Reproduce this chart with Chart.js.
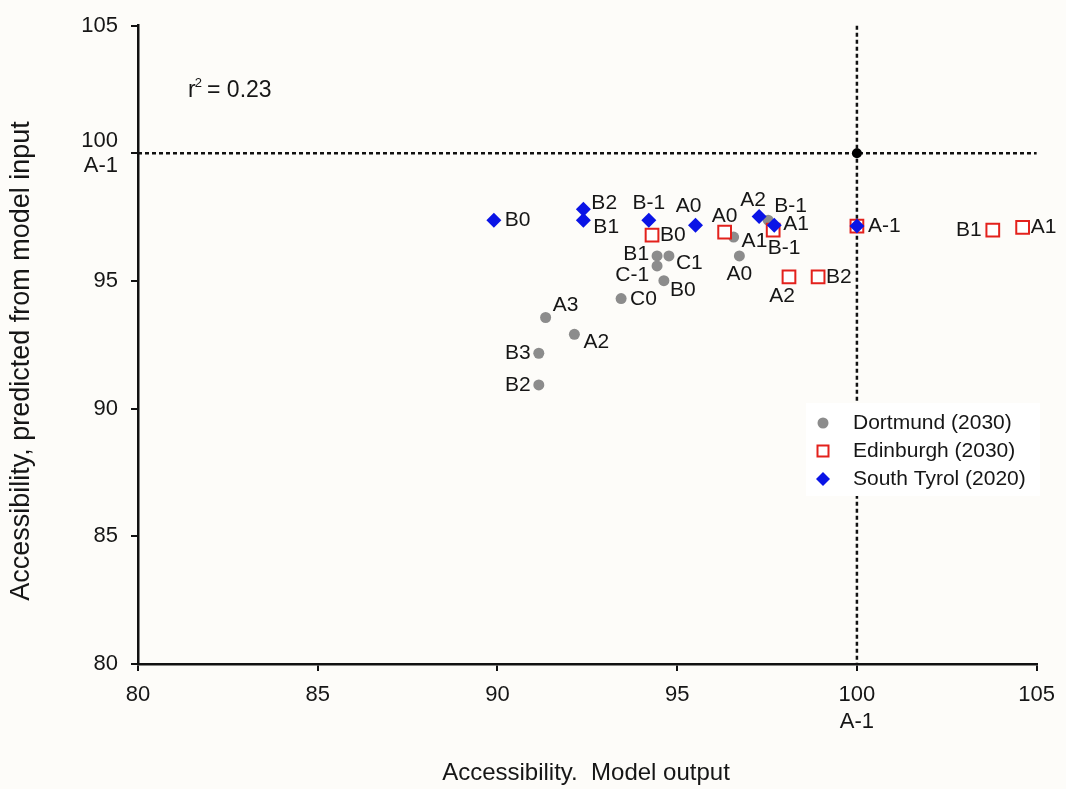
<!DOCTYPE html>
<html>
<head>
<meta charset="utf-8">
<script src="https://cdn.jsdelivr.net/npm/chart.js@4.4.0/dist/chart.umd.min.js"></script>
<style>
  html, body { margin: 0; padding: 0; background: #fdfcf9; }
  #wrap { width: 1066px; height: 789px; position: relative; }
</style>
</head>
<body>
<div id="wrap"><canvas id="accessChart"></canvas></div>
<script>
// values
const dortmundLabels = ['A3', 'A2', 'B3', 'B2', 'C0', 'B0', 'C-1', 'B1', 'C1', 'A1', 'A0', 'B-1'];
const dortmundX = [91.34, 92.14, 91.15, 91.15, 93.44, 94.63, 94.44, 94.44, 94.77, 96.57, 96.73, 97.53];
const dortmundY = [93.57, 92.91, 92.17, 90.93, 94.31, 95.01, 95.59, 95.98, 95.98, 96.72, 95.98, 97.38];

const edinburghLabels = ['B0', 'A0', 'B-1', '', 'A2', 'B2', 'B1', 'A1'];
const edinburghX = [94.30, 96.32, 97.67, 100.0, 98.11, 98.92, 103.78, 104.61];
const edinburghY = [96.80, 96.91, 96.99, 97.15, 95.16, 95.16, 96.99, 97.10];

const tyrolLabels = ['B0', 'B2', 'B1', 'B-1', 'A0', 'A2', 'A1', 'A-1'];
const tyrolX = [89.90, 92.39, 92.39, 94.21, 95.51, 97.28, 97.70, 100.0];
const tyrolY = [97.38, 97.81, 97.38, 97.38, 97.18, 97.53, 97.18, 97.15];

const seriesNames = ['Dortmund (2030)', 'Edinburgh (2030)', 'South Tyrol (2020)'];
const referenceX = [100];
const referenceY = [100];
const referenceTickLabel = 'A-1';
const xTitle = 'Accessibility.  Model output';
const yTitle = 'Accessibility, predicted from model input';

// label placement next to each point: [dx, dy, align]
const dortmundLabelPos = [
  [7, -12, 'left'], [9, 8, 'left'], [-8, 0, 'right'], [-8, 0, 'right'],
  [9, 1, 'left'], [6, 9, 'left'], [-8, 9, 'right'], [-8, -2, 'right'],
  [7, 7, 'left'], [8, 4, 'left'], [0, 18, 'center'], [6, -14, 'left']
];
const edinburghLabelPos = [
  [8, 0, 'left'], [0, -16, 'center'], [11, 18, 'center'], [0, 0, 'left'],
  [-7, 19, 'center'], [8, 0, 'left'], [-11, 0, 'right'], [8, 0, 'left']
];
const tyrolLabelPos = [
  [11, 0, 'left'], [8, -6, 'left'], [10, 7, 'left'], [0, -17, 'center'],
  [-7, -19, 'center'], [-6, -16, 'center'], [9, -1, 'left'], [11, 0, 'left']
];

const FONT = '"Liberation Sans", Arial, Helvetica, sans-serif';
const INK = '#161616';

function toPoints(xs, ys) {
  return xs.map((x, i) => ({ x: x, y: ys[i] }));
}

const backgroundPlugin = {
  id: 'paperBackground',
  beforeDraw(chart) {
    const ctx = chart.ctx;
    ctx.save();
    ctx.fillStyle = '#fdfcf9';
    ctx.fillRect(0, 0, chart.width, chart.height);
    ctx.restore();
  }
};

// dotted cross through the reference point
const crossPlugin = {
  id: 'referenceCross',
  beforeDatasetsDraw(chart) {
    const { ctx, scales: { x, y } } = chart;
    const px = x.getPixelForValue(referenceX[0]);
    const py = y.getPixelForValue(referenceY[0]);
    ctx.save();
    ctx.strokeStyle = '#111';
    ctx.lineWidth = 2.5;
    ctx.setLineDash([4, 3]);
    ctx.beginPath();
    ctx.moveTo(x.left, py);
    ctx.lineTo(x.right, py);
    ctx.moveTo(px, y.top);
    ctx.lineTo(px, y.bottom);
    ctx.stroke();
    ctx.restore();
  }
};

const pointLabelPlugin = {
  id: 'pointLabels',
  afterDatasetsDraw(chart) {
    const ctx = chart.ctx;
    ctx.save();
    ctx.font = '21px ' + FONT;
    ctx.fillStyle = INK;
    ctx.textBaseline = 'middle';
    chart.data.datasets.forEach((ds, di) => {
      if (!ds.pointNames) return;
      const meta = chart.getDatasetMeta(di);
      meta.data.forEach((el, i) => {
        const name = ds.pointNames[i];
        if (!name) return;
        const pos = ds.namePos[i];
        ctx.textAlign = pos[2];
        ctx.fillText(name, el.x + pos[0], el.y + pos[1]);
      });
    });
    ctx.restore();
  }
};

const extrasPlugin = {
  id: 'extras',
  afterDraw(chart) {
    const ctx = chart.ctx;
    ctx.save();
    ctx.fillStyle = INK;

    // r squared, with a small raised 2
    ctx.textAlign = 'left';
    ctx.textBaseline = 'alphabetic';
    ctx.font = '23px ' + FONT;
    ctx.fillText('r', 188, 97);
    const rw = ctx.measureText('r').width;
    ctx.font = '13px ' + FONT;
    ctx.fillText('2', 188 + rw - 1, 87);
    ctx.font = '23px ' + FONT;
    ctx.fillText(' = 0.23', 188 + rw + 5, 97);

    // axis titles
    ctx.textBaseline = 'middle';
    ctx.font = '24px ' + FONT;
    ctx.textAlign = 'center';
    ctx.fillText(xTitle, 586, 773);
    ctx.save();
    ctx.translate(22, 361);
    ctx.rotate(-Math.PI / 2);
    ctx.font = '27px ' + FONT;
    ctx.fillText(yTitle, 0, 0);
    ctx.restore();

    // legend box
    const lx = 806, ly = 403, lw = 234, lh = 93;
    ctx.fillStyle = '#ffffff';
    ctx.fillRect(lx, ly, lw, lh);
    const rows = [423, 451, 479];
    ctx.font = '21px ' + FONT;
    ctx.textAlign = 'left';
    ctx.textBaseline = 'middle';
    rows.forEach((ry, i) => {
      const mx = 823;
      ctx.beginPath();
      if (i === 0) {
        ctx.fillStyle = '#8c8c8c';
        ctx.arc(mx, ry, 5.5, 0, Math.PI * 2);
        ctx.fill();
      } else if (i === 1) {
        ctx.fillStyle = '#ffffff';
        ctx.strokeStyle = '#e3211c';
        ctx.lineWidth = 2;
        ctx.rect(mx - 5.5, ry - 5.5, 11, 11);
        ctx.fill();
        ctx.stroke();
      } else {
        ctx.fillStyle = '#0a14e6';
        ctx.moveTo(mx - 7, ry);
        ctx.lineTo(mx, ry - 7);
        ctx.lineTo(mx + 7, ry);
        ctx.lineTo(mx, ry + 7);
        ctx.closePath();
        ctx.fill();
      }
      ctx.fillStyle = INK;
      ctx.fillText(seriesNames[i], 853, ry);
    });
    ctx.restore();
  }
};

const tickLabel = v => (v === 100 ? ['100', referenceTickLabel] : String(v));

new Chart(document.getElementById('accessChart'), {
  type: 'scatter',
  data: {
    datasets: [
      {
        label: seriesNames[2],
        data: toPoints(tyrolX, tyrolY),
        pointNames: tyrolLabels,
        namePos: tyrolLabelPos,
        pointStyle: 'rectRot',
        pointRadius: 7.5,
        backgroundColor: '#0a14e6',
        borderColor: '#0a14e6',
        borderWidth: 0,
        order: 0
      },
      {
        label: seriesNames[1],
        data: toPoints(edinburghX, edinburghY),
        pointNames: edinburghLabels,
        namePos: edinburghLabelPos,
        pointStyle: 'rect',
        pointRadius: 9,
        backgroundColor: '#ffffff',
        borderColor: '#e3211c',
        borderWidth: 2,
        order: 1
      },
      {
        label: seriesNames[0],
        data: toPoints(dortmundX, dortmundY),
        pointNames: dortmundLabels,
        namePos: dortmundLabelPos,
        pointStyle: 'circle',
        pointRadius: 5.5,
        backgroundColor: '#8c8c8c',
        borderColor: '#8c8c8c',
        borderWidth: 0,
        order: 2
      },
      {
        label: 'reference',
        data: toPoints(referenceX, referenceY),
        pointStyle: 'circle',
        pointRadius: 5,
        backgroundColor: '#000000',
        borderColor: '#000000',
        borderWidth: 0,
        order: 3
      }
    ]
  },
  options: {
    responsive: true,
    maintainAspectRatio: false,
    animation: false,
    events: [],
    clip: false,
    layout: { padding: { top: 21, right: 24, left: 0, bottom: 0 } },
    plugins: {
      legend: { display: false },
      tooltip: { enabled: false }
    },
    scales: {
      x: {
        type: 'linear',
        min: 80,
        max: 105,
        afterFit: s => { s.height = 125; },
        ticks: {
          stepSize: 5,
          callback: tickLabel,
          color: INK,
          padding: 11,
          maxRotation: 0,
          font: { family: FONT, size: 22, lineHeight: 1.2 }
        },
        grid: { drawOnChartArea: false, tickLength: 7, color: '#111', lineWidth: 2 },
        border: { color: '#111', width: 2.5 }
      },
      y: {
        type: 'linear',
        min: 80,
        max: 105,
        afterFit: s => { s.width = 138; },
        ticks: {
          stepSize: 5,
          callback: tickLabel,
          color: INK,
          padding: 13,
          font: { family: FONT, size: 22, lineHeight: 1.15 }
        },
        grid: { drawOnChartArea: false, tickLength: 7, color: '#111', lineWidth: 2 },
        border: { color: '#111', width: 2.5 }
      }
    }
  },
  plugins: [backgroundPlugin, crossPlugin, pointLabelPlugin, extrasPlugin]
});
</script>
</body>
</html>
